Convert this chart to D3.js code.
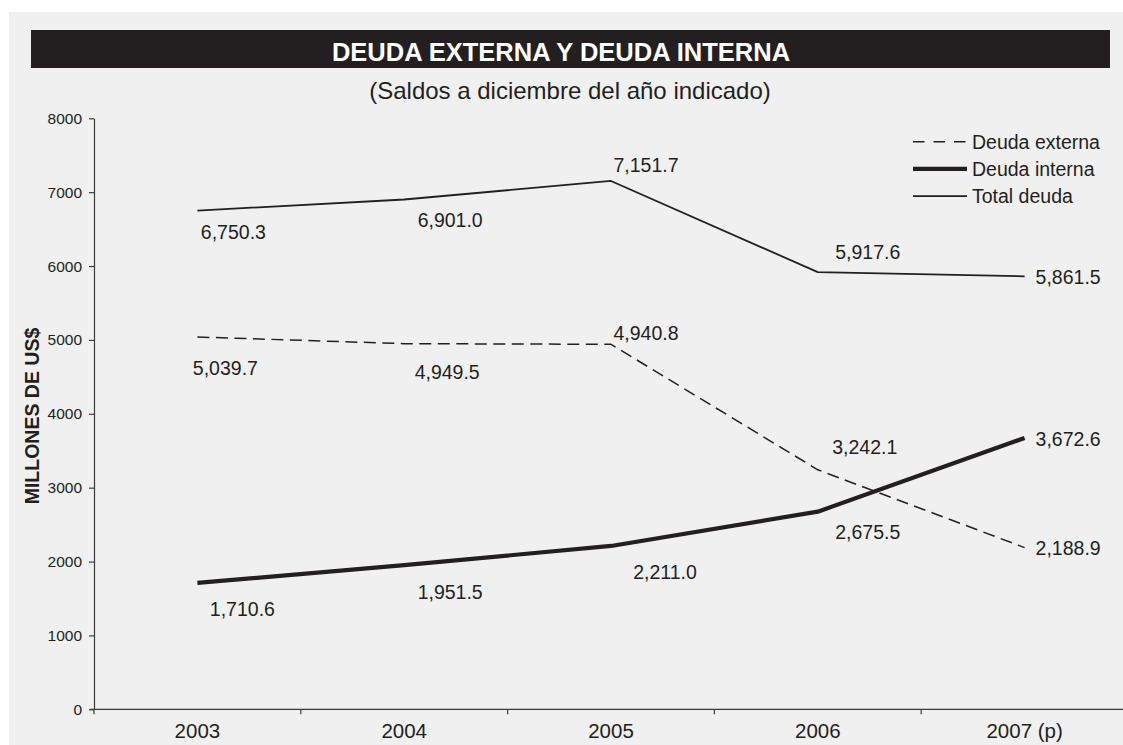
<!DOCTYPE html>
<html>
<head>
<meta charset="utf-8">
<script src="https://cdn.jsdelivr.net/npm/d3@7"></script>
<style>
  html, body { margin: 0; padding: 0; background: #ffffff; }
  svg { display: block; font-family: "Liberation Sans", Arial, sans-serif; }
</style>
</head>
<body>
<svg id="chart" width="1123" height="745"></svg>
<script>
// ---- data ----
const categories = ["2003", "2004", "2005", "2006", "2007 (p)"];
const deudaExterna = [5039.7, 4949.5, 4940.8, 3242.1, 2188.9];
const deudaInterna = [1710.6, 1951.5, 2211.0, 2675.5, 3672.6];
const totalDeuda   = [6750.3, 6901.0, 7151.7, 5917.6, 5861.5];
const seriesNames  = ["Deuda externa", "Deuda interna", "Total deuda"];
const yTicks = [0, 1000, 2000, 3000, 4000, 5000, 6000, 7000, 8000];
const titleText = "DEUDA EXTERNA Y DEUDA INTERNA";
const subtitleText = "(Saldos a diciembre del año indicado)";
const yAxisTitle = "MILLONES DE US$";

// ---- styles (not data) ----
const ink = "#231f20";
const seriesStyle = [
  { width: 1.5, dash: "12,6.5" },
  { width: 4.2, dash: null },
  { width: 1.8, dash: null }
];
// label offsets relative to the point: [dx, dy] of label centre; last point placed to the right
const labelOffsets = [
  [[28, 31], [43, 29], [35, -11], [47, -23], null],
  [[45, 26], [46, 27], [54, 26], [50, 21], null],
  [[36, 22], [46, 21], [35, -16], [50, -20], null]
];

const svg = d3.select("#chart");

// background panel and title bar
svg.append("rect").attr("x", 9).attr("y", 12).attr("width", 1114).attr("height", 733).attr("fill", "#f0f0f0");
svg.append("rect").attr("x", 31).attr("y", 30).attr("width", 1079).attr("height", 38).attr("fill", ink);
svg.append("text").attr("x", 561).attr("y", 61).attr("text-anchor", "middle")
  .attr("fill", "#ffffff").attr("font-weight", "bold").attr("font-size", 25.5).text(titleText);
svg.append("text").attr("x", 570).attr("y", 99).attr("text-anchor", "middle")
  .attr("fill", ink).attr("font-size", 24).text(subtitleText);

// scales
const x = d3.scaleBand().domain(categories).range([94, 1128]).padding(0);
const y = d3.scaleLinear().domain([0, 8000]).range([709.3, 118.3]);

// y axis
const yAxis = svg.append("g").attr("transform", "translate(94,0)")
  .call(d3.axisLeft(y).tickValues(yTicks).tickSize(5).tickSizeOuter(0).tickPadding(7).tickFormat(d3.format("d")));
yAxis.select(".domain").attr("stroke", "#3a3a3a").attr("stroke-width", 1.2);
yAxis.selectAll(".tick line").attr("stroke", "#3a3a3a").attr("stroke-width", 1.2);
yAxis.selectAll(".tick text").attr("fill", ink).attr("font-size", 15.5).attr("font-family", "Liberation Sans, Arial, sans-serif");

// x axis: line, boundary ticks and centred labels
const xg = svg.append("g");
xg.append("line").attr("x1", 90).attr("x2", 1123).attr("y1", y(0)).attr("y2", y(0))
  .attr("stroke", "#3a3a3a").attr("stroke-width", 1.2);
xg.selectAll("line.bt").data(categories).join("line").attr("class", "bt")
  .attr("x1", d => x(d)).attr("x2", d => x(d)).attr("y1", y(0)).attr("y2", y(0) + 5)
  .attr("stroke", "#3a3a3a").attr("stroke-width", 1.2);
const xAxis = svg.append("g").attr("transform", `translate(0,${y(0)})`)
  .call(d3.axisBottom(x).tickSize(0).tickPadding(14.5));
xAxis.select(".domain").remove();
xAxis.selectAll(".tick text").attr("fill", ink).attr("font-size", 20.5).attr("font-family", "Liberation Sans, Arial, sans-serif");

// y axis title
svg.append("text").attr("transform", "translate(39,416) rotate(-90)").attr("text-anchor", "middle")
  .attr("fill", ink).attr("font-weight", "bold").attr("font-size", 19.5).text(yAxisTitle);

// lines
const allSeries = [deudaExterna, deudaInterna, totalDeuda];
const line = d3.line().x((d, i) => x(categories[i]) + x.bandwidth() / 2).y(d => y(d));
allSeries.forEach((vals, s) => {
  svg.append("path").datum(vals).attr("d", line).attr("fill", "none")
    .attr("stroke", ink).attr("stroke-width", seriesStyle[s].width)
    .attr("stroke-dasharray", seriesStyle[s].dash)
    .attr("stroke-linejoin", "round");
});

// value labels
const fmt = d3.format(",.1f");
allSeries.forEach((vals, s) => {
  vals.forEach((v, i) => {
    const px = x(categories[i]) + x.bandwidth() / 2, py = y(v);
    const off = labelOffsets[s][i];
    const t = svg.append("text").attr("fill", ink).attr("font-size", 19.5).attr("dy", "0.35em").text(fmt(v));
    if (off) t.attr("x", px + off[0]).attr("y", py + off[1]).attr("text-anchor", "middle");
    else t.attr("x", px + 11).attr("y", py + 1).attr("text-anchor", "start");
  });
});

// legend
const legend = svg.append("g");
seriesNames.forEach((name, s) => {
  const ly = 141.7 + s * 27.2;
  legend.append("line").attr("x1", 913).attr("x2", 967).attr("y1", ly).attr("y2", ly)
    .attr("stroke", ink).attr("stroke-width", seriesStyle[s].width)
    .attr("stroke-dasharray", s === 0 ? "11.5,9" : null);
  legend.append("text").attr("x", 972).attr("y", ly).attr("dy", "0.35em")
    .attr("fill", ink).attr("font-size", 19.5).text(name);
});
</script>
</body>
</html>
